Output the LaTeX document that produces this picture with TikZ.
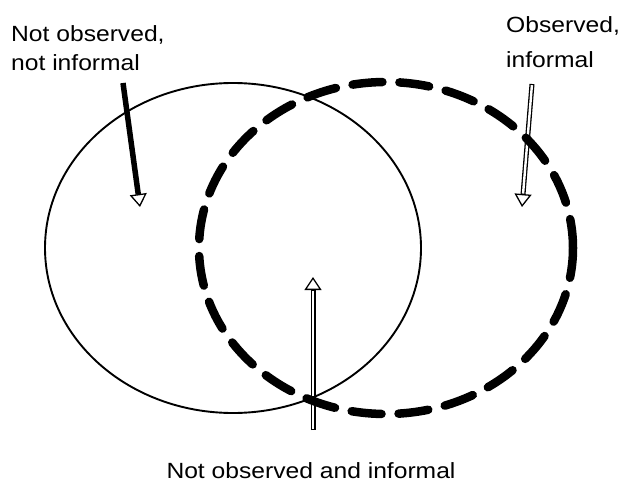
\documentclass[tikz,border=0pt]{standalone}
\usepackage{fontspec}
\newfontfamily\labelfont[FakeStretch=1.12]{Liberation Sans}
\usetikzlibrary{arrows.meta}

\tikzset{
	labeltext/.style = {font = \labelfont\fontsize{22pt}{29pt}\selectfont, inner sep = 0pt, align = left},
	openhead/.style = {-{Triangle[open, length = 13pt, width = 17pt, line width = 1.3pt]}},
	solidarrow/.style = {openhead, line width = 5.5pt},
	hollowarrow/.style = {openhead, line width = 5pt, postaction = {draw = white, -, line width = 2.4pt, shorten >= 13.5pt, shorten <= 1.2pt}},
}

\begin{document}
\begin{tikzpicture}[yscale = -1, x = 1pt, y = 1pt]
	\useasboundingbox (0, 0) rectangle (621, 484);

	% Beschriftungen (base = letzte Zeile)
	\node [labeltext, anchor = base west] (notnot) at (11, 71) {Not observed,\\not informal};
	\node [labeltext, anchor = base west] (obsinf) at (506, 68) {Observed,\\[6pt]informal};
	\node [labeltext, anchor = base, align = center, text depth = 0pt] (notinf) at (311, 478) {Not observed and informal};

	% Pfeile
	\coordinate (a1) at (123, 83);
	\coordinate (b1) at (140, 207);
	\coordinate (a2) at (532, 84);
	\coordinate (b2) at (522, 207);
	\coordinate (a3) at (313, 430);
	\coordinate (b3) at (313, 277);
	\draw [solidarrow] (a1) -- (b1);
	\draw [hollowarrow] (a2) -- (b2);
	\draw [hollowarrow] (a3) -- (b3);

	% Ellipsen
	\draw [line width = 1.9pt] (233, 248) ellipse [x radius = 188, y radius = 165];
	\draw [line width = 8.5pt, line cap = round, dash pattern = on 30pt off 17pt] (386, 248) ellipse [x radius = 187, y radius = 166];
\end{tikzpicture}
\end{document}
